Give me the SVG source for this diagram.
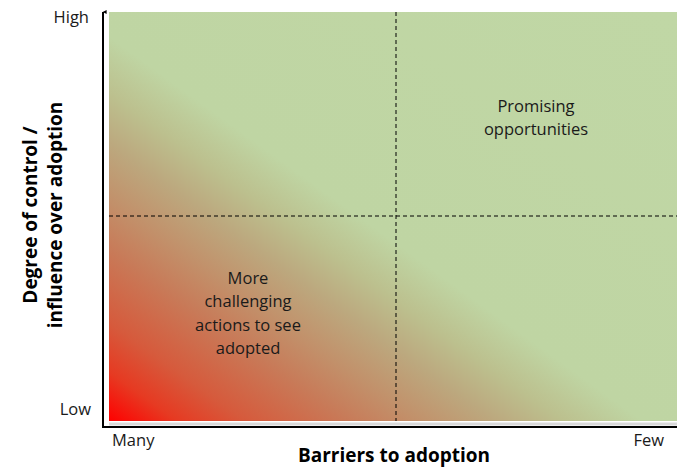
<svg xmlns="http://www.w3.org/2000/svg" width="677" height="467" viewBox="0 0 677 467">
  <defs>
    <linearGradient id="fade" x1="0" y1="1" x2="1" y2="0">
      <stop offset="0" stop-color="#ff0000"/>
      <stop offset="0.06" stop-color="#e63a22"/>
      <stop offset="0.12" stop-color="#d65a3c"/>
      <stop offset="0.21" stop-color="#c87a58"/>
      <stop offset="0.27" stop-color="#c2906a"/>
      <stop offset="0.34" stop-color="#bca87e"/>
      <stop offset="0.40" stop-color="#bcc08e"/>
      <stop offset="0.47" stop-color="#bfd5a3"/>
      <stop offset="1" stop-color="#c0d7a5"/>
    </linearGradient>
    <marker id="arrow" viewBox="0 0 10 10" refX="5" refY="1" markerWidth="4" markerHeight="5" orient="auto-start-reverse" markerUnits="userSpaceOnUse">
      <path d="M0,10 L5,0 L10,10 Z" fill="#000"/>
    </marker>
  </defs>
  <style>
    .lbl { font-family: "Open Sans", "Noto Sans", "Liberation Sans", sans-serif; font-size: 16.5px; fill: #1a1a1a; }
    .q { font-family: "Open Sans", "Noto Sans", "Liberation Sans", sans-serif; font-size: 16.5px; fill: #1a1a1a; text-anchor: middle; }
    .title { font-family: "Open Sans", "Noto Sans", "Liberation Sans", sans-serif; font-size: 19px; font-weight: bold; fill: #000; text-anchor: middle; }
    .grid { stroke: #000; stroke-width: 1; stroke-dasharray: 4 3; fill: none; }
    .axis { stroke: #000; stroke-width: 2; fill: none; }
  </style>

  <!-- plot field with red-to-green fade -->
  <g id="field">
    <line x1="109" y1="424" x2="677" y2="424" stroke="#d9d9d9" stroke-width="3"/>
    <rect x="109" y="12" width="568" height="409" fill="url(#fade)"/>
  </g>

  <!-- quadrant divisions and axes -->
  <g id="connectors">
    <line class="grid" x1="396" y1="12" x2="396" y2="421"/>
    <line class="grid" x1="109" y1="216" x2="677" y2="216"/>
    <line class="axis" x1="103" y1="428" x2="103" y2="12" marker-end="url(#arrow)"/>
    <line class="axis" x1="102" y1="427" x2="677" y2="427"/>
  </g>

  <g id="quadrant-low">
    <text class="q" x="248" y="284">More</text>
    <text class="q" x="248" y="307">challenging</text>
    <text class="q" x="248" y="331">actions to see</text>
    <text class="q" x="248" y="354">adopted</text>
  </g>

  <g id="quadrant-high">
    <text class="q" x="536" y="112">Promising</text>
    <text class="q" x="536" y="135">opportunities</text>
  </g>

  <g id="axis-labels">
    <text class="lbl" x="89" y="23" text-anchor="end">High</text>
    <text class="lbl" x="91" y="415" text-anchor="end">Low</text>
    <text class="lbl" x="112" y="446">Many</text>
    <text class="lbl" x="664" y="446" text-anchor="end">Few</text>
    <text class="title" x="394" y="462">Barriers to adoption</text>
    <g transform="translate(37,215) rotate(-90)">
      <text class="title" x="0" y="0">Degree of control /</text>
      <text class="title" x="0" y="25">influence over adoption</text>
    </g>
  </g>
</svg>
